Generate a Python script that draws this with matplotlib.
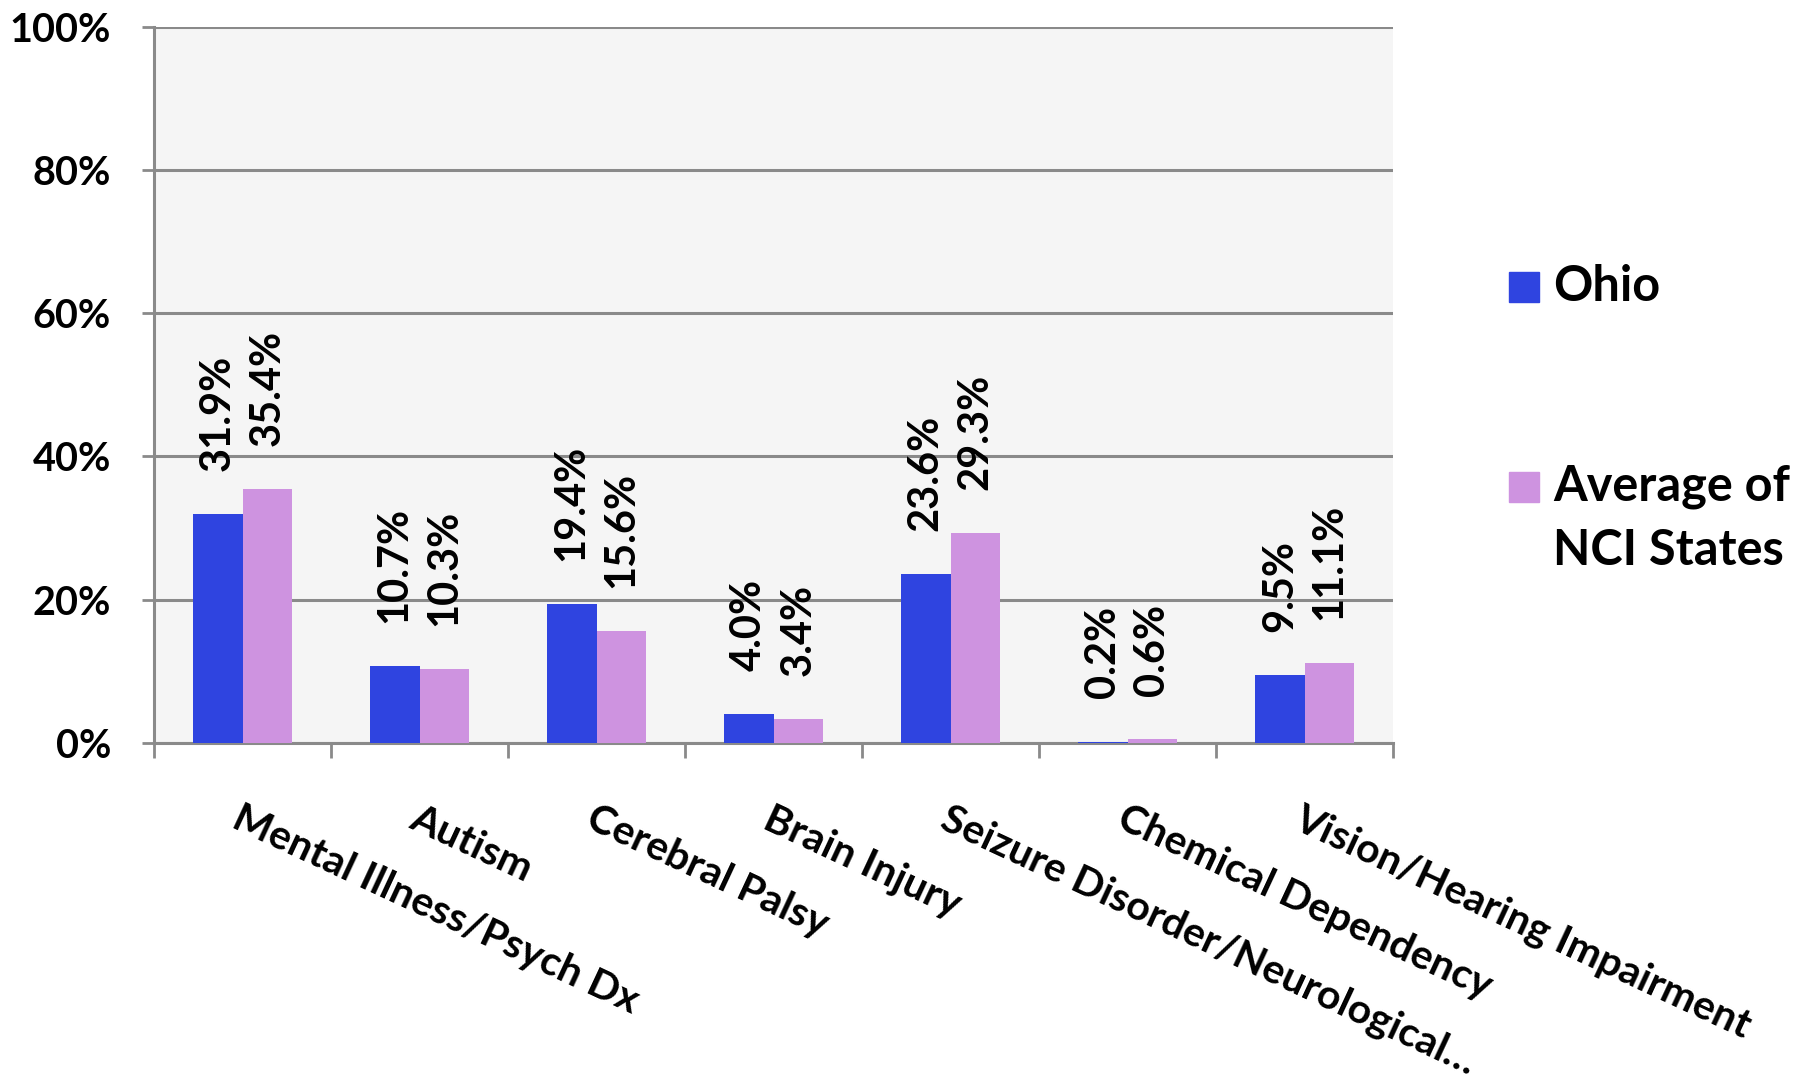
import numpy as np
import matplotlib
matplotlib.use('Agg')
import matplotlib.pyplot as plt
from matplotlib.patches import Rectangle

# datos
categories = ['Mental Illness/Psych Dx', 'Autism', 'Cerebral Palsy', 'Brain Injury',
              'Seizure Disorder/Neurological\u2026', 'Chemical Dependency',
              'Vision/Hearing Impairment']
ohio = [31.9, 10.7, 19.4, 4.0, 23.6, 0.2, 9.5]
nci_avg = [35.4, 10.3, 15.6, 3.4, 29.3, 0.6, 11.1]
series_names = ['Ohio', 'Average of\nNCI States']
y_ticks = [0, 20, 40, 60, 80, 100]

plt.rcParams['font.family'] = ['Lato', 'DejaVu Sans']
plt.rcParams['font.weight'] = 'bold'

blue = '#2f44e0'
pink = '#ce93e0'
grey = '#8a8a8a'

fig = plt.figure(figsize=(18.12, 10.87), dpi=100)
ax = fig.add_axes([0.085, 0.3165, 0.6838, 0.6591])
ax.set_facecolor('#f5f5f5')

x = np.arange(len(categories))
w = 0.28
b1 = ax.bar(x - w / 2, ohio, w, color=blue, zorder=3)
b2 = ax.bar(x + w / 2, nci_avg, w, color=pink, zorder=3)

# etiquetas de valor rotadas
for bars, vals in [(b1, ohio), (b2, nci_avg)]:
    for r, v in zip(bars, vals):
        ax.annotate(f'{v:.1f}%', (r.get_x() + r.get_width() / 2, v),
                    xytext=(0, 31), textcoords='offset points',
                    rotation=90, ha='center', va='bottom', fontsize=30, zorder=4)

ax.set_xlim(-0.5, len(categories) - 0.5)
ax.set_ylim(0, 100)
ax.set_yticks(y_ticks)
ax.set_yticklabels([f'{t}%' for t in y_ticks])
ax.yaxis.grid(True, color=grey, linewidth=2.2, zorder=1)
ax.set_axisbelow(True)

ax.set_xticks(np.arange(-0.5, len(categories)))
ax.set_xticklabels([])
ax.set_xticks(x, categories, minor=True)
ax.tick_params(axis='x', which='major', direction='out', length=11, width=2, color=grey)
ax.tick_params(axis='x', which='minor', length=0, pad=41, labelsize=29.5)
for lab in ax.get_xticklabels(minor=True):
    lab.set_rotation(-25)
    lab.set_ha('left')
    lab.set_va('top')
    lab.set_rotation_mode('anchor')
ax.tick_params(axis='y', direction='out', length=9, width=2, color=grey, pad=22, labelsize=28.5)

for s in ['top', 'right']:
    ax.spines[s].set_visible(False)
for s in ['left', 'bottom']:
    ax.spines[s].set_color(grey)
    ax.spines[s].set_linewidth(2.2)

# leyenda
for yc, col in [(0.736, blue), (0.552, pink)]:
    fig.patches.append(Rectangle((0.8328, yc - 0.0138), 0.01656, 0.0276,
                                 transform=fig.transFigure, color=col))
fig.text(0.857, 0.736, series_names[0], fontsize=35, va='center', ha='left')
fig.text(0.857, 0.523, series_names[1], fontsize=35, va='center', ha='left', linespacing=1.5)

fig.savefig('out.png', dpi=100)
